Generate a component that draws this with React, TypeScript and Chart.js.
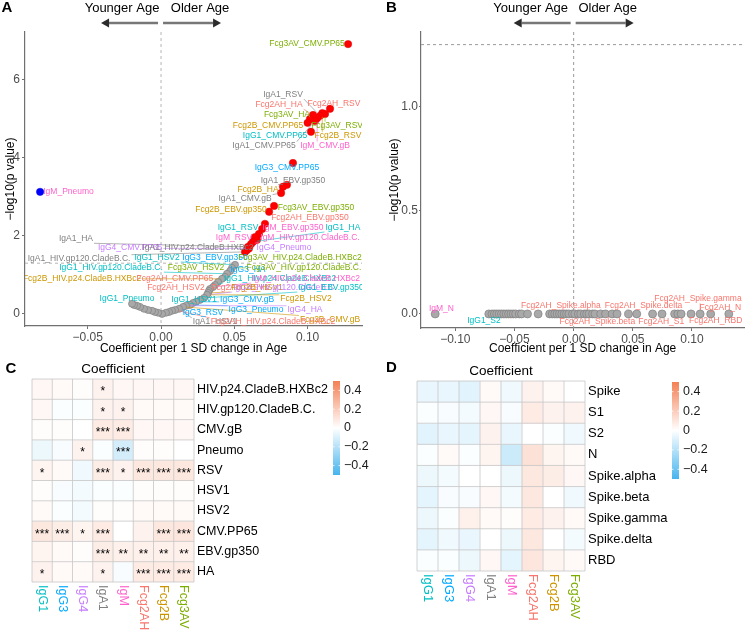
import React, { useEffect, useRef } from "react";
import { Chart, registerables } from "chart.js";
Chart.register(...registerables);

const FONT = "'Liberation Sans', Arial, Helvetica, sans-serif";
const TICK_COLOR = "#4D4D4D";
const AXIS_COLOR = "#707070";

// ---------- isotypes ----------
const isotypes = ["IgG1", "IgG3", "IgG4", "IgA1", "IgM", "Fcg2AH", "Fcg2B", "Fcg3AV"];
const isotypeColors = ["#00BFC4", "#00A9FF", "#C77CFF", "#808080", "#FF61CC", "#F8766D", "#CD9600", "#7CAE00"];
const colorOf = (name: string) => {
  const i = isotypes.indexOf(name.split("_")[0]);
  return i >= 0 ? isotypeColors[i] : "#333";
};

const P_THRESHOLD = 1.30103; // -log10(0.05)

// ---------- Panel A (volcano, general antigens) ----------
const aXTicks = [-0.05, 0, 0.05, 0.1];
const aYTicks = [0, 2, 4, 6];
const aUpX = [0.1276, 0.1153, 0.1119, 0.11, 0.1085, 0.1065, 0.105, 0.1037, 0.1016, 0.1, 0.1023, 0.09, 0.0859, 0.0832, 0.0819, 0.0771, 0.0737, 0.0709, 0.069, 0.0668, 0.0655, 0.0641, 0.0628, 0.0614, 0.06, 0.0593, 0.0587, 0.0573];
const aUpY = [6.92, 5.26, 5.13, 5.15, 5.08, 5.02, 4.95, 5.1, 5.0, 4.9, 4.67, 3.87, 3.31, 3.26, 3.1, 2.77, 2.62, 2.31, 2.18, 2.05, 1.9, 1.97, 1.85, 1.79, 1.68, 1.72, 1.64, 1.59];
const aDownX = [-0.0825];
const aDownY = [3.13];
const aNsX = [0.0505, 0.0484, 0.0471, 0.045, 0.0437, 0.0416, 0.0389, 0.0368, 0.0355, 0.0334, 0.0327, 0.0321, 0.0314, 0.0293, 0.0266, 0.0239, 0.0218, 0.0198, 0.0171, 0.015, 0.0123, 0.0096, 0.0075, 0.0055, 0.0034, 0.0007, -0.002, -0.0041, -0.0061, -0.0089, -0.0116, -0.0143, -0.0164, -0.0184, -0.0198];
const aNsY = [1.26, 1.18, 1.1, 1.03, 0.95, 0.9, 0.82, 0.74, 0.69, 0.64, 0.59, 0.54, 0.49, 0.41, 0.36, 0.31, 0.28, 0.23, 0.21, 0.18, 0.13, 0.1, 0.08, 0.05, 0.03, 0.0, 0.03, 0.05, 0.08, 0.1, 0.13, 0.18, 0.21, 0.23, 0.26];
// [text, label x, label y, target x, target y] in data units
const aLabels: [string, number, number, number, number][] = [
  ["IgM_Pneumo", -0.0631, 3.13, -0.0825, 3.13],
  ["Fcg3AV_CMV.PP65", 0.0996, 6.92, 0.1276, 6.92],
  ["IgA1_RSV", 0.0832, 5.62, 0.1085, 5.08],
  ["Fcg2AH_HA", 0.0805, 5.36, 0.1037, 5.1],
  ["Fcg2AH_RSV", 0.118, 5.38, 0.1153, 5.26],
  ["Fcg3AV_HA", 0.0859, 5.1, 0.1016, 5.0],
  ["Fcg2B_CMV.PP65", 0.073, 4.82, 0.1, 4.9],
  ["Fcg3AV_RSV", 0.1201, 4.82, 0.1119, 5.13],
  ["IgG1_CMV.PP65", 0.0778, 4.56, 0.1023, 4.67],
  ["Fcg2B_RSV", 0.1207, 4.56, 0.11, 5.15],
  ["IgA1_CMV.PP65", 0.0703, 4.31, 0.105, 4.95],
  ["IgM_CMV.gB", 0.1119, 4.31, 0.1065, 5.02],
  ["IgG3_CMV.PP65", 0.0859, 3.74, 0.09, 3.87],
  ["IgA1_EBV.gp350", 0.09, 3.41, 0.0859, 3.31],
  ["Fcg2B_HA", 0.0662, 3.18, 0.0832, 3.26],
  ["IgA1_CMV.gB", 0.0573, 2.95, 0.0819, 3.1],
  ["Fcg3AV_EBV.gp350", 0.1057, 2.72, 0.0771, 2.77],
  ["Fcg2B_EBV.gp350", 0.0477, 2.67, 0.0737, 2.62],
  ["Fcg2AH_EBV.gp350", 0.1016, 2.46, 0.0709, 2.31],
  ["IgG1_RSV", 0.0525, 2.21, 0.069, 2.18],
  ["IgM_EBV.gp350", 0.09, 2.21, 0.0668, 2.05],
  ["IgG1_HA", 0.1241, 2.21, 0.0628, 1.85],
  ["IgA1_HA", -0.058, 1.92, 0.0593, 1.72],
  ["IgM_RSV", 0.0498, 1.95, 0.0641, 1.97],
  ["IgM_HIV.gp120.CladeB.C.", 0.1016, 1.95, 0.0614, 1.79],
  ["IgG4_CMV.PP65", -0.0211, 1.69, 0.06, 1.68],
  ["IgA1_HIV.p24.CladeB.HXBc2", 0.0252, 1.69, 0.0587, 1.64],
  ["IgG4_Pneumo", 0.0839, 1.69, 0.0655, 1.9],
  ["IgA1_HIV.gp120.CladeB.C.", -0.0559, 1.41, 0.0573, 1.59],
  ["IgG1_HSV2", -0.0027, 1.44, 0.0505, 1.26],
  ["IgG3_EBV.gp350", 0.0368, 1.44, 0.0484, 1.18],
  ["Fcg3AV_HIV.p24.CladeB.HXBc2", 0.0948, 1.44, 0.0505, 1.26],
  ["IgG1_HIV.gp120.CladeB.C.", -0.0341, 1.18, 0.045, 1.03],
  ["Fcg3AV_HSV2", 0.0239, 1.18, 0.0437, 0.95],
  ["IgG3_HA", 0.0593, 1.13, 0.0471, 1.1],
  ["Fcg3AV_HIV.gp120.CladeB.C.", 0.0975, 1.18, 0.0484, 1.18],
  ["Fcg2B_HIV.p24.CladeB.HXBc2", -0.0539, 0.9, 0.0416, 0.9],
  ["Fcg2AH_CMV.PP65", 0.0095, 0.9, 0.0389, 0.82],
  ["IgG1_HIV.p24.CladeB.HXBc2", 0.0812, 0.9, 0.0368, 0.74],
  ["IgM_HIV.p24.CladeB.HXBc2", 0.0989, 0.9, 0.0355, 0.69],
  ["Fcg2AH_HSV2", 0.0102, 0.67, 0.0334, 0.64],
  ["Fcg2AH_HSV1", 0.0539, 0.67, 0.0327, 0.59],
  ["Fcg2B_HSV1", 0.0655, 0.67, 0.0321, 0.54],
  ["IgG4_HIV.gp120.CladeB.C.", 0.0846, 0.67, 0.0314, 0.49],
  ["IgG1_EBV.gp350", 0.116, 0.67, 0.0293, 0.41],
  ["IgG1_Pneumo", -0.0232, 0.38, -0.0184, 0.23],
  ["IgG1_HSV1", 0.0225, 0.36, 0.0266, 0.36],
  ["IgG3_CMV.gB", 0.0587, 0.36, 0.0239, 0.31],
  ["Fcg2B_HSV2", 0.0989, 0.38, 0.0314, 0.49],
  ["IgG3_RSV", 0.0286, 0.03, 0.0218, 0.28],
  ["IgG3_Pneumo", 0.0648, 0.1, 0.0198, 0.23],
  ["IgG4_HA", 0.0982, 0.1, 0.0171, 0.21],
  ["Fcg2B_CMV.gB", 0.1153, -0.15, 0.015, 0.18],
  ["IgA1_HSV1", 0.0368, -0.21, 0.0123, 0.13],
  ["Fcg2AH_HIV.p24.CladeB.HXBc2", 0.0764, -0.21, 0.0096, 0.1],
];

// ---------- Panel B (volcano, SARS-CoV-2 antigens) ----------
const bXTicks = [-0.1, -0.05, 0, 0.05, 0.1];
const bYTicks = [0, 0.5, 1];
const bNsX = [-0.117, -0.0717, -0.069, -0.067, -0.065, -0.063, -0.061, -0.059, -0.057, -0.055, -0.053, -0.051, -0.049, -0.046, -0.044, -0.039, -0.03, -0.0203, -0.018, -0.016, -0.014, -0.012, -0.01, -0.008, -0.006, -0.004, -0.001, 0.001, 0.004, 0.006, 0.009, 0.011, 0.013, 0.016, 0.018, 0.0228, 0.0269, 0.0325, 0.0367, 0.0464, 0.0533, 0.0667, 0.0747, 0.0853, 0.0881, 0.0908, 0.0992, 0.1069, 0.1158, 0.1311];
const bNsY = [0, 0, 0, 0, 0, 0, 0, 0, 0, 0, 0, 0, 0, 0, 0, 0, 0, 0, 0, 0, 0, 0, 0, 0, 0, 0, 0, 0, 0, 0, 0, 0, 0, 0, 0, 0, 0, 0, 0, 0, 0, 0, 0, 0, 0, 0, 0, 0, 0, 0];
const bLabels: [string, number, number, number, number][] = [
  ["IgM_N", -0.1117, 0.024, -0.117, 0],
  ["IgG1_S2", -0.0758, -0.034, -0.0717, 0],
  ["Fcg2AH_Spike.alpha", -0.0108, 0.039, 0.0269, 0],
  ["Fcg2AH_Spike.delta", 0.059, 0.039, 0.0881, 0],
  ["Fcg2AH_Spike.gamma", 0.105, 0.072, 0.1069, 0],
  ["Fcg2AH_N", 0.124, 0.029, 0.1158, 0],
  ["Fcg2AH_Spike.beta", 0.02, -0.039, 0.0533, 0],
  ["Fcg2AH_S1", 0.074, -0.039, 0.0908, 0],
  ["Fcg2AH_RBD", 0.12, -0.034, 0.1311, 0],
];

// ---------- Panel C (heatmap) ----------
const cRows = ["HIV.p24.CladeB.HXBc2", "HIV.gp120.CladeB.C.", "CMV.gB", "Pneumo", "RSV", "HSV1", "HSV2", "CMV.PP65", "EBV.gp350", "HA"];
const cValues = [
  [0.03, 0.02, 0.01, 0.05, 0.03, 0.03, 0.03, 0.03],
  [0.03, -0.01, -0.01, 0.05, 0.05, 0.02, 0.02, 0.02],
  [0.01, 0.01, 0.0, 0.08, 0.08, 0.03, 0.03, 0.03],
  [-0.05, -0.02, 0.05, -0.01, -0.12, 0.01, 0.01, 0.0],
  [0.04, 0.02, -0.04, 0.07, 0.05, 0.09, 0.09, 0.09],
  [0.01, -0.02, -0.03, -0.01, -0.01, 0.01, 0.01, 0.01],
  [0.02, -0.01, -0.03, 0.01, 0.01, 0.02, 0.02, 0.02],
  [0.09, 0.07, 0.04, 0.08, 0.0, 0.05, 0.09, 0.1],
  [0.04, 0.02, 0.01, 0.07, 0.06, 0.06, 0.06, 0.06],
  [0.05, 0.02, 0.02, 0.05, -0.02, 0.08, 0.08, 0.08],
];
const cStars = [
  ["", "", "", "*", "", "", "", ""],
  ["", "", "", "*", "*", "", "", ""],
  ["", "", "", "***", "***", "", "", ""],
  ["", "", "*", "", "***", "", "", ""],
  ["*", "", "", "***", "*", "***", "***", "***"],
  ["", "", "", "", "", "", "", ""],
  ["", "", "", "", "", "", "", ""],
  ["***", "***", "*", "***", "", "", "***", "***"],
  ["", "", "", "***", "**", "**", "**", "**"],
  ["*", "", "", "*", "", "***", "***", "***"],
];

// ---------- Panel D (heatmap) ----------
const dRows = ["Spike", "S1", "S2", "N", "Spike.alpha", "Spike.beta", "Spike.gamma", "Spike.delta", "RBD"];
const dValues = [
  [-0.06, -0.06, -0.08, 0.02, -0.04, 0.05, 0.02, 0.0],
  [-0.01, -0.02, -0.03, 0.03, -0.02, 0.08, 0.05, 0.05],
  [-0.08, -0.06, -0.07, 0.05, -0.06, 0.0, -0.01, -0.04],
  [-0.01, 0.02, -0.01, 0.04, -0.14, 0.12, 0.04, 0.02],
  [-0.05, -0.03, 0.0, 0.0, -0.05, 0.09, 0.07, 0.03],
  [-0.07, -0.02, -0.02, 0.03, -0.03, 0.09, 0.0, -0.04],
  [-0.05, -0.01, 0.06, 0.02, 0.01, 0.08, 0.05, 0.02],
  [-0.07, -0.04, -0.06, 0.0, -0.05, 0.09, 0.0, -0.03],
  [-0.01, -0.01, -0.05, 0.03, -0.07, 0.1, 0.04, 0.02],
];

const cbarTicks = [0.4, 0.2, 0, -0.2, -0.4];
const HEAT_HIGH = [244, 128, 84];
const HEAT_LOW = [70, 180, 238];
const HEAT_LIM = 0.5;

// ---------- helpers ----------
function fmtTick(v: number, dec: number) {
  const s = Math.abs(v).toFixed(dec);
  return v < -1e-9 ? "\u2212" + s : s;
}
function heatColor(v: number) {
  const t = Math.max(-1, Math.min(1, v / HEAT_LIM));
  const c = t >= 0 ? HEAT_HIGH : HEAT_LOW;
  const a = Math.abs(t);
  return `rgb(${Math.round(255 + (c[0] - 255) * a)},${Math.round(255 + (c[1] - 255) * a)},${Math.round(255 + (c[2] - 255) * a)})`;
}
function drawArrow(ctx: CanvasRenderingContext2D, x1: number, x2: number, y: number) {
  const dir = Math.sign(x2 - x1);
  const hl = 8;
  ctx.strokeStyle = "#777";
  ctx.lineWidth = 2.5;
  ctx.beginPath();
  ctx.moveTo(x1, y);
  ctx.lineTo(x2 - dir * hl, y);
  ctx.stroke();
  ctx.fillStyle = "#2b2b2b";
  ctx.beginPath();
  ctx.moveTo(x2, y);
  ctx.lineTo(x2 - dir * hl, y - 4.5);
  ctx.lineTo(x2 - dir * hl, y + 4.5);
  ctx.closePath();
  ctx.fill();
}
function drawLetter(ctx: CanvasRenderingContext2D, t: string, x: number, y: number) {
  ctx.save();
  ctx.font = `bold 15px ${FONT}`;
  ctx.fillStyle = "#000";
  ctx.textAlign = "center";
  ctx.textBaseline = "middle";
  ctx.fillText(t, x, y);
  ctx.restore();
}
function drawRepelLabels(chart: any, labels: [string, number, number, number, number][], fontSize: number, ptR: number) {
  const { ctx, chartArea: ca } = chart;
  const xs = chart.scales.x;
  const ys = chart.scales.y;
  ctx.save();
  ctx.beginPath();
  ctx.rect(ca.left, ca.top, ca.right - ca.left, ca.bottom - ca.top);
  ctx.clip();
  ctx.font = `${fontSize}px ${FONT}`;
  const items = labels.map(([t, lx, ly, tx, ty]) => ({
    t,
    cx: xs.getPixelForValue(lx),
    cy: ys.getPixelForValue(ly),
    px: xs.getPixelForValue(tx),
    py: ys.getPixelForValue(ty),
    w: ctx.measureText(t).width,
    color: colorOf(t),
  }));
  ctx.lineWidth = 0.6;
  for (const it of items) {
    const hw = it.w / 2 + 1;
    const hh = fontSize * 0.5;
    const bx = Math.min(Math.max(it.px, it.cx - hw), it.cx + hw);
    const by = Math.min(Math.max(it.py, it.cy - hh), it.cy + hh);
    const d = Math.hypot(it.px - bx, it.py - by);
    if (d > ptR + 3) {
      const ex = it.px - ((it.px - bx) / d) * ptR;
      const ey = it.py - ((it.py - by) / d) * ptR;
      ctx.strokeStyle = it.color;
      ctx.beginPath();
      ctx.moveTo(bx, by);
      ctx.lineTo(ex, ey);
      ctx.stroke();
    }
  }
  ctx.textAlign = "center";
  ctx.textBaseline = "middle";
  for (const it of items) {
    ctx.fillStyle = it.color;
    ctx.fillText(it.t, it.cx, it.cy);
  }
  ctx.restore();
}

// ---------- volcano config ----------
function volcanoConfig(o: any) {
  const pts = (xs: number[], ys: number[]) => xs.map((x, i) => ({ x, y: ys[i] }));
  const datasets: any[] = [
    { data: pts(o.nsX, o.nsY), backgroundColor: "#A9A9A9", borderColor: "#7F7F7F", borderWidth: 0.7, pointRadius: o.nsR },
  ];
  if (o.upX) datasets.push({ data: pts(o.upX, o.upY), backgroundColor: "#FF0000", borderColor: "#E00000", borderWidth: 0.5, pointRadius: o.sigR });
  if (o.downX) datasets.push({ data: pts(o.downX, o.downY), backgroundColor: "#0000FF", borderColor: "#0000E0", borderWidth: 0.5, pointRadius: o.sigR });

  const plugin = {
    id: "volcanoDecor" + o.letter.t,
    beforeDatasetsDraw(chart: any) {
      const { ctx, chartArea: ca } = chart;
      const x0 = chart.scales.x.getPixelForValue(0);
      const yT = chart.scales.y.getPixelForValue(P_THRESHOLD);
      ctx.save();
      ctx.strokeStyle = o.dashColor;
      ctx.lineWidth = 1;
      ctx.setLineDash([3, 3]);
      ctx.beginPath();
      ctx.moveTo(x0, ca.top);
      ctx.lineTo(x0, ca.bottom);
      ctx.moveTo(ca.left, yT);
      ctx.lineTo(ca.right, yT);
      ctx.stroke();
      ctx.restore();
    },
    afterDatasetsDraw(chart: any) {
      drawRepelLabels(chart, o.labels, 8.5, o.sigR);
    },
    afterDraw(chart: any) {
      const { ctx } = chart;
      const x0 = chart.scales.x.getPixelForValue(0);
      ctx.save();
      ctx.font = `13px ${FONT}`;
      ctx.fillStyle = "#000";
      ctx.textAlign = "center";
      ctx.textBaseline = "middle";
      ctx.fillText("Younger Age", x0 + o.header.young, 8);
      ctx.fillText("Older Age", x0 + o.header.old, 8);
      drawArrow(ctx, x0 - 3, x0 - 60, 23);
      drawArrow(ctx, x0 + 2, x0 + 60, 23);
      ctx.restore();
      drawLetter(ctx, o.letter.t, o.letter.x, o.letter.y);
    },
  };

  return {
    type: "scatter",
    data: { datasets },
    options: {
      responsive: false,
      animation: false,
      devicePixelRatio: 1,
      events: [],
      layout: { padding: o.padding },
      plugins: { legend: { display: false }, tooltip: { enabled: false } },
      scales: {
        x: {
          type: "linear",
          min: o.xMin,
          max: o.xMax,
          afterBuildTicks: (s: any) => {
            s.ticks = o.xTicks.map((v: number) => ({ value: v }));
          },
          afterFit: (s: any) => {
            s.height = o.xAxisHeight;
          },
          ticks: {
            callback: (v: any) => fmtTick(Number(v), 2),
            color: TICK_COLOR,
            font: { family: FONT, size: 12 },
            padding: 1,
            maxRotation: 0,
            autoSkip: false,
          },
          grid: { display: true, drawOnChartArea: false, drawTicks: true, tickLength: 3, color: AXIS_COLOR, lineWidth: 1 },
          border: { display: true, color: AXIS_COLOR, width: 1.2 },
          title: {
            display: true,
            text: "Coefficient per 1 SD change in Age",
            color: "#000",
            font: { family: FONT, size: 12 },
            padding: { top: 0, bottom: 6 },
          },
        },
        y: {
          type: "linear",
          min: o.yMin,
          max: o.yMax,
          afterBuildTicks: (s: any) => {
            s.ticks = o.yTicks.map((v: number) => ({ value: v }));
          },
          afterFit: (s: any) => {
            s.width = o.yAxisWidth;
          },
          ticks: {
            callback: (v: any) => fmtTick(Number(v), o.yDec),
            color: TICK_COLOR,
            font: { family: FONT, size: 12 },
            padding: o.yTickPad,
            autoSkip: false,
          },
          grid: { display: true, drawOnChartArea: false, drawTicks: true, tickLength: o.yTickLen, color: AXIS_COLOR, lineWidth: 1 },
          border: { display: true, color: AXIS_COLOR, width: 1.2 },
          title: {
            display: true,
            text: "\u2212log10(p value)",
            color: "#000",
            font: { family: FONT, size: 12 },
            padding: { top: o.yTitlePad, bottom: 0 },
          },
        },
      },
    },
    plugins: [plugin],
  } as any;
}

// ---------- heatmap config ----------
function heatConfig(o: any) {
  const datasets = o.rows.map((_r: string, ri: number) => ({
    data: isotypes.map(() => [ri, ri + 1]),
    backgroundColor: o.values[ri].map(heatColor),
    borderWidth: 0,
    barPercentage: 1,
    categoryPercentage: 1,
    grouped: false,
  }));

  const plugin = {
    id: "heatDecor" + o.letter.t,
    afterDatasetsDraw(chart: any) {
      const { ctx, chartArea: ca } = chart;
      const xs = chart.scales.x;
      const ys = chart.scales.y;
      const n = isotypes.length;
      const cw = (ca.right - ca.left) / n;
      ctx.save();
      ctx.strokeStyle = "#C6C6C6";
      ctx.lineWidth = 0.8;
      ctx.beginPath();
      for (let i = 0; i <= n; i++) {
        const x = ca.left + i * cw;
        ctx.moveTo(x, ca.top);
        ctx.lineTo(x, ca.bottom);
      }
      for (let r = 0; r <= o.rows.length; r++) {
        const y = ys.getPixelForValue(r);
        ctx.moveTo(ca.left, y);
        ctx.lineTo(ca.right, y);
      }
      ctx.stroke();
      if (o.stars) {
        ctx.font = `12px ${FONT}`;
        ctx.fillStyle = "#000";
        ctx.textAlign = "center";
        ctx.textBaseline = "middle";
        o.stars.forEach((row: string[], ri: number) =>
          row.forEach((s: string, ci: number) => {
            if (s) ctx.fillText(s, xs.getPixelForValue(ci), ys.getPixelForValue(ri + 0.5) + 3);
          })
        );
      }
      ctx.restore();
    },
    afterDraw(chart: any) {
      const { ctx, chartArea: ca } = chart;
      const xs = chart.scales.x;
      ctx.save();
      // column labels (rotated clockwise)
      ctx.font = `${o.colFont}px ${FONT}`;
      ctx.textAlign = "left";
      ctx.textBaseline = "middle";
      isotypes.forEach((iso, ci) => {
        ctx.save();
        ctx.translate(xs.getPixelForValue(ci), ca.bottom + 3);
        ctx.rotate(Math.PI / 2);
        ctx.fillStyle = isotypeColors[ci];
        ctx.fillText(iso, 0, 0);
        ctx.restore();
      });
      // title
      ctx.font = `13.5px ${FONT}`;
      ctx.fillStyle = "#000";
      ctx.textAlign = "center";
      ctx.fillText("Coefficient", (ca.left + ca.right) / 2, ca.top - 10);
      // colorbar
      const cb = o.cbar;
      const x0 = ca.right + cb.dx;
      const y0 = ca.top + cb.dy;
      const grad = ctx.createLinearGradient(0, y0, 0, y0 + cb.h);
      for (let i = 0; i <= 20; i++) {
        const f = i / 20;
        grad.addColorStop(f, heatColor(HEAT_LIM - f * 2 * HEAT_LIM));
      }
      ctx.fillStyle = grad;
      ctx.fillRect(x0, y0, cb.w, cb.h);
      const vToY = (v: number) => y0 + ((HEAT_LIM - v) / (2 * HEAT_LIM)) * cb.h;
      ctx.strokeStyle = "#fff";
      ctx.lineWidth = 0.8;
      ctx.font = `12.5px ${FONT}`;
      ctx.fillStyle = "#1A1A1A";
      ctx.textAlign = "left";
      cbarTicks.forEach((v) => {
        const y = vToY(v);
        ctx.beginPath();
        ctx.moveTo(x0, y);
        ctx.lineTo(x0 + 1.5, y);
        ctx.moveTo(x0 + cb.w - 1.5, y);
        ctx.lineTo(x0 + cb.w, y);
        ctx.stroke();
        ctx.fillText(v === 0 ? "0" : fmtTick(v, 1), x0 + cb.w + 4, y);
      });
      ctx.restore();
      drawLetter(ctx, o.letter.t, o.letter.x, o.letter.y);
    },
  };

  return {
    type: "bar",
    data: { labels: isotypes, datasets },
    options: {
      responsive: false,
      animation: false,
      devicePixelRatio: 1,
      events: [],
      layout: { padding: o.padding },
      plugins: { legend: { display: false }, tooltip: { enabled: false } },
      scales: {
        x: {
          type: "category",
          offset: true,
          ticks: { display: false },
          grid: { display: false, drawTicks: false },
          border: { display: false },
          afterFit: (s: any) => {
            s.height = o.xHeight;
          },
        },
        y: {
          type: "linear",
          position: "right",
          min: 0,
          max: o.rows.length,
          reverse: true,
          afterBuildTicks: (s: any) => {
            s.ticks = o.rows.map((_r: string, i: number) => ({ value: i + 0.5 }));
          },
          afterFit: (s: any) => {
            s.width = o.yWidth;
          },
          ticks: {
            callback: (v: any) => o.rows[Math.floor(Number(v))],
            color: "#000",
            font: { family: FONT, size: o.rowFont },
            padding: 3,
            autoSkip: false,
          },
          grid: { display: false, drawTicks: false },
          border: { display: false },
        },
      },
    },
    plugins: [plugin],
  } as any;
}

const makeA = () =>
  volcanoConfig({
    nsX: aNsX, nsY: aNsY, upX: aUpX, upY: aUpY, downX: aDownX, downY: aDownY,
    nsR: 3.5, sigR: 3.7,
    xMin: -0.0928, xMax: 0.1371, yMin: -0.31, yMax: 7.23,
    xTicks: aXTicks, yTicks: aYTicks, yDec: 0,
    padding: { top: 32, right: 12, left: 0, bottom: 0 },
    yAxisWidth: 25, xAxisHeight: 36, yTitlePad: 3.3, yTickLen: 3, yTickPad: 2,
    labels: aLabels, dashColor: "#B4B4B4",
    header: { young: -39, old: 39 },
    letter: { t: "A", x: 7, y: 8 },
  });

const makeB = () =>
  volcanoConfig({
    nsX: bNsX, nsY: bNsY,
    nsR: 4, sigR: 4,
    xMin: -0.129, xMax: 0.1442, yMin: -0.068, yMax: 1.362,
    xTicks: bXTicks, yTicks: bYTicks, yDec: 1,
    padding: { top: 32, right: 0, left: 0, bottom: 0 },
    yAxisWidth: 47, xAxisHeight: 34, yTitlePad: 13.8, yTickLen: 2, yTickPad: 1,
    labels: bLabels, dashColor: "#9A9A9A",
    header: { young: -43, old: 34 },
    letter: { t: "B", x: 17.5, y: 8 },
  });

const makeC = () =>
  heatConfig({
    rows: cRows, values: cValues, stars: cStars,
    rowFont: 12.5, colFont: 12.5,
    padding: { top: 19, left: 32, right: 0, bottom: 0 },
    yWidth: 180, xHeight: 48,
    cbar: { dx: 139, dy: 2, w: 7, h: 94 },
    letter: { t: "C", x: 11, y: 9 },
  });

const makeD = () =>
  heatConfig({
    rows: dRows, values: dValues,
    rowFont: 13, colFont: 13,
    padding: { top: 21, left: 43, right: 0, bottom: 0 },
    yWidth: 164, xHeight: 59,
    cbar: { dx: 87, dy: 1, w: 7, h: 97 },
    letter: { t: "D", x: 17.5, y: 8 },
  });

function ChartBox({ make, left, top, width, height }: any) {
  const ref = useRef<HTMLCanvasElement>(null);
  useEffect(() => {
    const chart = new Chart(ref.current as HTMLCanvasElement, make());
    return () => chart.destroy();
  }, []);
  return (
    <canvas
      ref={ref}
      width={width}
      height={height}
      style={{ position: "absolute", left, top, width, height, display: "block" }}
    />
  );
}

export default function App() {
  return (
    <div style={{ position: "absolute", left: 0, top: 0, width: 749, height: 630, background: "#fff", overflow: "hidden" }}>
      <ChartBox make={makeA} left={0} top={0} width={374} height={362} />
      <ChartBox make={makeB} left={374} top={0} width={375} height={362} />
      <ChartBox make={makeC} left={0} top={360} width={374} height={270} />
      <ChartBox make={makeD} left={374} top={360} width={375} height={270} />
    </div>
  );
}
